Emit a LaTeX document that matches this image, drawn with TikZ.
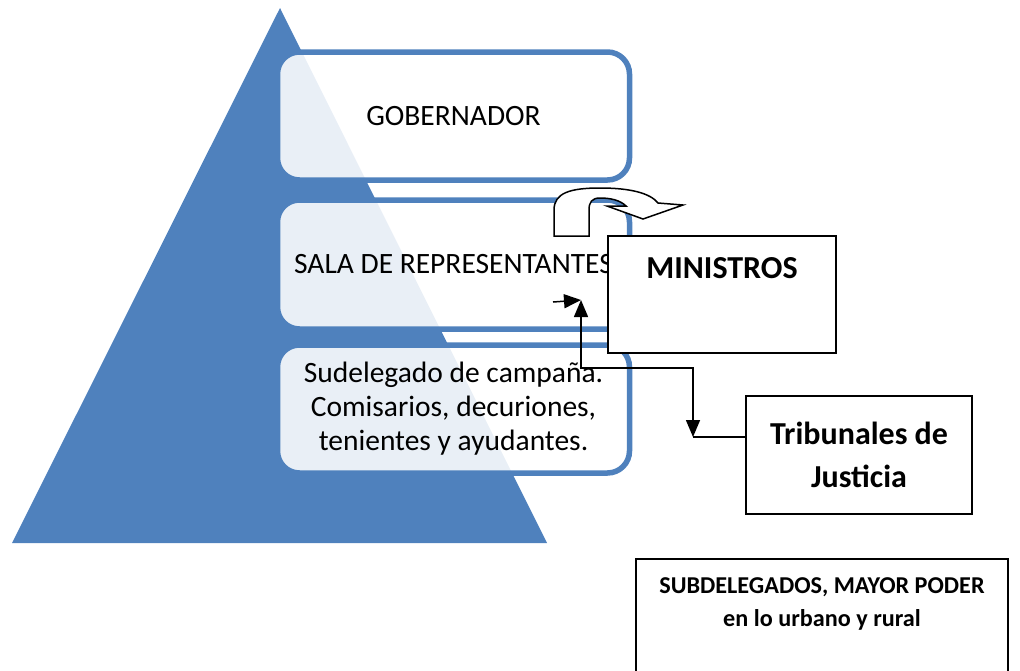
\documentclass[tikz,border=0pt]{standalone}
\usepackage{fontspec}
\setmainfont{Carlito}
\usetikzlibrary{arrows.meta}
\definecolor{levelcolor}{RGB}{79, 129, 189}
\tikzstyle{level} = [draw=levelcolor, line width=5.5pt, rounded corners=22pt, fill=white, fill opacity=0.88, text opacity=1, minimum width=352pt, align=center, font=\fontsize{29.5}{34}\selectfont]
\tikzstyle{infobox} = [draw=black, line width=2pt, fill=white, align=center, font=\bfseries\fontsize{32}{43}\selectfont]
\tikzstyle{forward} = [-{Triangle[length=17pt, width=14pt]}, line width=1.5pt]
\tikzstyle{link} = [{Triangle[length=17pt, width=14pt]}-{Triangle[length=17pt, width=14pt]}, line width=1.5pt]

\begin{document}
\begin{tikzpicture}[x=1pt, y=-1pt]
		\useasboundingbox (0,0) rectangle (1020,670);
		
		%
		% Pyramid
		\fill [levelcolor] (280,8) -- (547,543) -- (12,543) -- cycle;
		
		\node [level, minimum height=128pt] at (453.5,116) (gobernador) {GOBERNADOR};
		\node [level, minimum height=129pt] at (453.5,264.5) (sala) {SALA DE REPRESENTANTES};
		\node [level, minimum height=128pt] at (453.5,409) (subdelegado) {Sudelegado de campaña.\\Comisarios, decuriones,\\tenientes y ayudantes.};
		
		% Curved arrow
		\draw [line width=1.5pt, fill=white] (554,236) -- (554,210) .. controls (554,193) and (570,188) .. (600,188) .. controls (630,188) and (650,193) .. (658,203) -- (683,205) -- (643,219) -- (607,206) -- (626,206) .. controls (620,200) and (610,198) .. (600,198) .. controls (592,198) and (589,202) .. (589,210) -- (589,236) -- cycle;
		
		%
		% Side boxes
		\node [infobox, minimum width=228pt, minimum height=117pt, text height=22pt, text depth=55pt] at (722,294.5) (ministros) {MINISTROS};
		\node [infobox, minimum width=226pt, minimum height=118pt] at (859,455) (tribunales) {Tribunales de\\Justicia};
		\node [infobox, minimum width=372pt, minimum height=160pt, anchor=north] at (822,558) (subdelegados) {};
		\node [font=\bfseries\fontsize{24.2}{33}\selectfont, align=center] at (822,604) (subdelegados_text) {SUBDELEGADOS, MAYOR PODER\\en lo urbano y rural};
		
		%
		% Connectors
		\coordinate (sala_in) at (553,302);
		\coordinate (sala_up) at (581,300);
		\coordinate (bend) at (581,368);
		\coordinate (junction) at (693,437);
		
		\draw [forward] (sala_in) -- (sala_up);
		\draw [link] (sala_up) -- (bend) -| (junction);
		\draw [line width=1.5pt] (junction) -- (junction -| tribunales.west);
	
	\end{tikzpicture}
\end{document}
